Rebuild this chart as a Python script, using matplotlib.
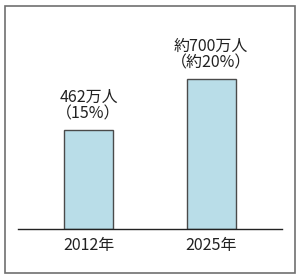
import matplotlib
import matplotlib.pyplot as plt
from matplotlib.patches import Rectangle

matplotlib.use('Agg')
plt.rcParams['font.family'] = ['Noto Sans CJK JP', 'DejaVu Sans']

years = ["2012年", "2025年"]
values = [462, 700]
value_labels = ["462万人", "約700万人"]
share_labels = ["（15%）", "（約20%）"]

fig = plt.figure(figsize=(3.0, 2.8), dpi=100)

# outer frame around the whole chart
fig.patches.append(Rectangle((5 / 300, 7 / 280), 290 / 300, 267 / 280,
                             transform=fig.transFigure, fill=False,
                             edgecolor='#6f6f6f', linewidth=1.2))

# axes: x 18..282 px, baseline at y=229 px, 0.2143 px per unit
ax_h = 200
ax = fig.add_axes([18 / 300, 51 / 280, 264 / 300, ax_h / 280])
px_per_unit = 150 / 700
ax.set_ylim(0, ax_h / px_per_unit)
ax.set_xlim(-70.5 / 122.5, (264 - 70.5) / 122.5)

x = list(range(len(years)))
ax.bar(x, values, width=49 / 122.5, color='#b9dde8',
       edgecolor='#4a4a4a', linewidth=1.0)

for xi, v, top, bottom in zip(x, values, value_labels, share_labels):
    ax.annotate(top, xy=(xi, v), xytext=(0, 33), textcoords='offset pixels',
                ha='center', va='center', fontsize=11.5, color='#222222')
    ax.annotate(bottom, xy=(xi, v), xytext=(0, 16), textcoords='offset pixels',
                ha='center', va='center', fontsize=11.5, color='#222222')

ax.set_xticks(x)
ax.set_xticklabels(years, fontsize=11.5, color='#222222')
ax.tick_params(axis='x', length=0, pad=6)
ax.set_yticks([])
for side in ['left', 'right', 'top']:
    ax.spines[side].set_visible(False)
ax.spines['bottom'].set_color('#222222')
ax.spines['bottom'].set_linewidth(1.0)
ax.patch.set_visible(False)

fig.savefig("out.png", dpi=100)
